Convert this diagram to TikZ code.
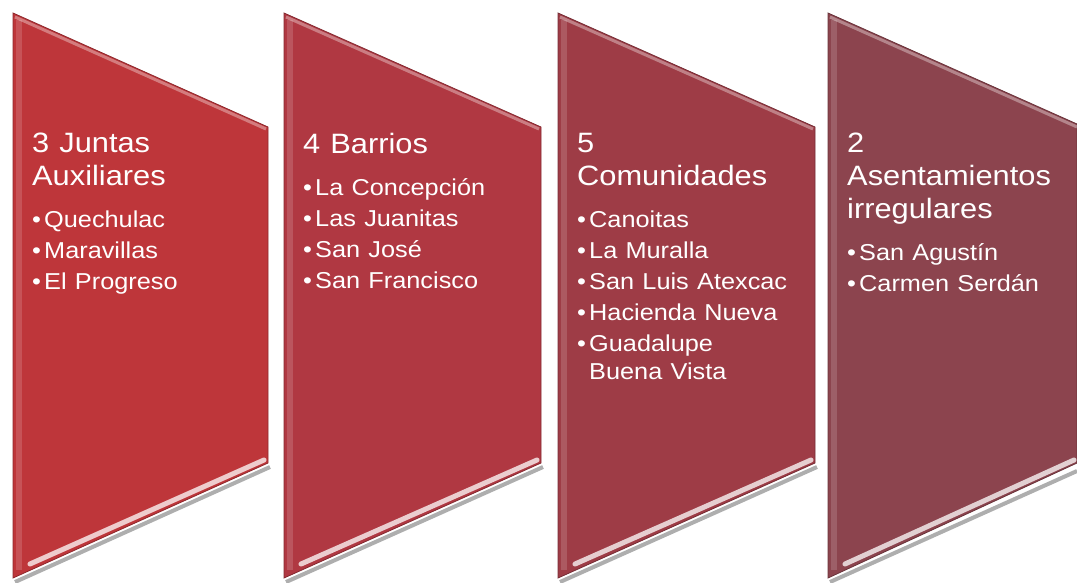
\documentclass[tikz,border=0pt]{standalone}
\usepackage{fontspec}
\setmainfont{Liberation Sans}[FakeStretch=1.1]
\usetikzlibrary{positioning}
\definecolor{juntasred}{RGB}{190,54,58}
\definecolor{barriosred}{RGB}{176,56,66}
\definecolor{comunred}{RGB}{158,60,70}
\definecolor{asentred}{RGB}{140,68,78}

\tikzset{
  panel/.style={fill=#1, draw=#1!75!black, line width=0.8pt},
  toplight/.style={draw=white, opacity=0.35, line width=3pt},
  leftlight/.style={draw=white, opacity=0.15, line width=6pt},
  gloss/.style={draw=white, opacity=0.75, line width=5pt, line cap=round},
  dropshade/.style={draw=black!70, opacity=0.45, line width=4pt},
  listtext/.style={anchor=north west, inner sep=0pt, text width=240pt, text=white,
    font=\raggedright},
}
\newcommand{\heading}[1]{{\parskip=0pt\fontsize{28}{33}\selectfont\spaceskip=.36em #1\par}\vspace{14pt}}
\newcommand{\entry}[1]{{\parskip=0pt\fontsize{23}{28}\selectfont\spaceskip=.36em\hangindent=12pt\hangafter=1\noindent\makebox[12pt][l]{\textbullet}#1\par}\vspace{3pt}}

\begin{document}
\begin{tikzpicture}[x=1pt, y=-1pt]
        \useasboundingbox (0,0) rectangle (1077,582);
        % Draw panels
        \path[panel=juntasred] (13,13) -- (268,127) -- (268,463) -- (13,578) -- cycle;
        \path[panel=barriosred] (284,13) -- (541,127) -- (541,463) -- (284,578) -- cycle;
        \path[panel=comunred] (558,13) -- (815,127) -- (815,463) -- (558,578) -- cycle;
        \path[panel=asentred] (828,13) -- (1077,124) -- (1077,463) -- (828,578) -- cycle;
        % Draw bevel lights
        \draw[toplight] (15,17) -- (266,129);
        \draw[toplight] (286,17) -- (539,129);
        \draw[toplight] (560,17) -- (813,129);
        \draw[toplight] (830,17) -- (1077,127);
        \draw[leftlight] (19,20) -- (19,570);
        \draw[leftlight] (290,20) -- (290,570);
        \draw[leftlight] (564,20) -- (564,570);
        \draw[leftlight] (834,20) -- (834,570);
        \draw[gloss] (30,564) -- (264,460);
        \draw[gloss] (301,564) -- (537,460);
        \draw[gloss] (575,564) -- (811,460);
        \draw[gloss] (845,564) -- (1074,460);
        % Draw shadows under panels
        \draw[dropshade] (15,582) -- (270,467);
        \draw[dropshade] (286,582) -- (543,467);
        \draw[dropshade] (560,582) -- (817,467);
        \draw[dropshade] (830,582) -- (1077,471);
        % Lists
        \node[listtext] (juntas) at (32,133) {%
          \heading{3 Juntas\newline Auxiliares}%
          \entry{Quechulac}\entry{Maravillas}\entry{El Progreso}};
        \node[listtext] (barrios) at (303,133) {%
          \heading{4 Barrios}%
          \entry{La Concepción}\entry{Las Juanitas}\entry{San José}\entry{San Francisco}};
        \node[listtext] (comunidades) at (577,133) {%
          \heading{5\newline Comunidades}%
          \entry{Canoitas}\entry{La Muralla}\entry{San Luis Atexcac}\entry{Hacienda Nueva}%
          \entry{Guadalupe\newline Buena Vista}};
        \node[listtext] (asentamientos) at (847,133) {%
          \heading{2\newline Asentamientos\newline irregulares}%
          \entry{San Agustín}\entry{Carmen Serdán}};
    \end{tikzpicture}
\end{document}
